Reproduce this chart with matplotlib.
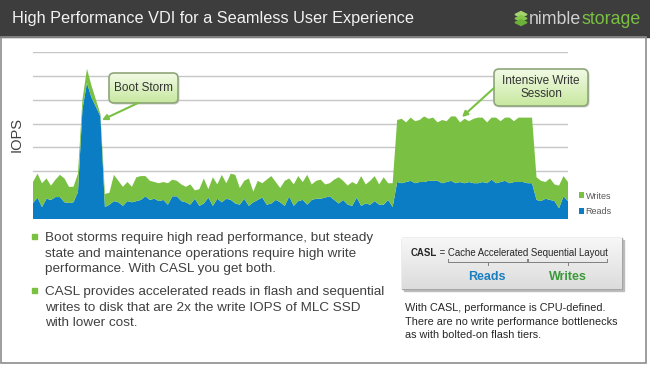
import numpy as np
import matplotlib
matplotlib.use('Agg')
import matplotlib.pyplot as plt
from matplotlib.patches import FancyBboxPatch, Rectangle, Polygon

plt.rcParams['font.family'] = ['Liberation Sans', 'DejaVu Sans']

# %% Data (IOPS, in grid units)
reads = [0.67, 0.9, 0.5, 0.85, 0.8, 0.92, 0.92, 0.7, 0.67, 0.7,
         1.13, 4.6, 5.7, 5.1, 4.7, 4.3, 0.5, 0.6, 0.75, 0.7,
         0.55, 0.75, 0.7, 0.75, 0.8, 0.95, 0.8, 0.85, 0.75, 0.8,
         0.6, 0.95, 0.95, 0.75, 0.7, 0.6, 0.85, 0.55, 0.65, 0.9,
         0.55, 0.85, 0.7, 0.85, 0.8, 0.65, 0.6, 0.85, 0.55, 0.7,
         0.8, 0.9, 0.6, 0.65, 0.8, 0.7, 0.55, 0.95, 0.55, 0.75,
         0.8, 0.6, 0.8, 0.85, 0.85, 0.9, 0.95, 0.8, 0.65, 0.8,
         0.6, 0.55, 0.9, 0.55, 0.65, 0.6, 0.75, 0.6, 0.6, 0.8,
         0.5, 1.55, 1.5, 1.55, 1.6, 1.5, 1.55, 1.55, 1.6, 1.6,
         1.6, 1.5, 1.55, 1.6, 1.5, 1.55, 1.5, 1.55, 1.5, 1.5,
         1.55, 1.5, 1.65, 1.5, 1.55, 1.6, 1.5, 1.55, 1.55, 1.55,
         1.5, 1.5, 0.8, 0.75, 0.85, 0.8, 0.75, 0.45, 0.95, 0.75]
writes = [0.88, 1.0, 1.0, 0.85, 0.6, 0.73, 0.93, 1.0, 0.68, 0.65,
          0.77, 0.4, 0.6, 0.5, 0.3, 0.1, 0.55, 0.5, 1.1, 0.9,
          0.8, 0.8, 0.65, 1.0, 1.0, 0.85, 0.8, 0.7, 0.75, 0.75,
          0.9, 0.7, 0.65, 0.7, 0.65, 0.85, 0.35, 0.7, 1.05, 0.35,
          1.2, 0.6, 1.15, 0.65, 1.1, 1.2, 0.7, 0.75, 1.15, 0.45,
          0.8, 0.6, 1.05, 1.15, 0.75, 0.6, 1.05, 0.75, 0.9, 1.05,
          0.75, 1.25, 0.65, 0.75, 0.8, 0.55, 0.55, 0.85, 1.1, 0.8,
          0.8, 1.0, 0.55, 1.25, 0.8, 1.0, 1.05, 0.85, 1.15, 0.7,
          1.0, 2.6, 2.7, 2.5, 2.65, 2.6, 2.6, 2.75, 2.6, 2.65,
          2.45, 2.65, 2.55, 2.7, 2.8, 2.5, 2.7, 2.55, 2.7, 2.75,
          2.7, 2.55, 2.6, 2.75, 2.55, 2.65, 2.75, 2.55, 2.7, 2.7,
          2.75, 2.75, 0.95, 0.85, 0.7, 0.9, 0.7, 0.95, 0.85, 0.8]
series_labels = ['Reads', 'Writes']
n_grid = 7

bullets = [
    'Boot storms require high read performance, but steady\n'
    'state and maintenance operations require high write\n'
    'performance. With CASL you get both.',
    'CASL provides accelerated reads in flash and sequential\n'
    'writes to disk that are 2x the write IOPS of MLC SSD\n'
    'with lower cost.',
]

green = '#7ac143'
blue = '#0a7dc4'
text_grey = '#404040'

W, H = 650, 366
fig = plt.figure(figsize=(W / 100, H / 100), dpi=100)

# %% Background layer in pixel coordinates
bg = fig.add_axes([0, 0, 1, 1], zorder=0)
bg.set_xlim(0, W)
bg.set_ylim(H, 0)
bg.axis('off')

bg.add_patch(Rectangle((0, 0), W, 37, color='#3d3d3d'))
bg.add_patch(Rectangle((1, 37), 645, 326, fill=False, ec='#8c8c8c', lw=1.2))
bg.text(12, 19, 'High Performance VDI for a Seamless User Experience',
        color='#f2f2f2', fontsize=11.7, va='center', ha='left')

# logo
for k, yy in enumerate([14.5, 18.5, 22.5]):
    bg.add_patch(Polygon([[515, yy], [521, yy - 3], [527, yy], [521, yy + 3]],
                         closed=True, color=['#a5d46e', '#86c64f', '#6cb23a'][k]))
nimble = bg.text(529, 19, 'nimble', color='#d0d0d0', fontsize=12.8,
                 va='center', ha='left')
bg.annotate('storage', xy=(1, 0.5), xycoords=nimble, color=green,
            fontsize=12.8, va='center', ha='left')

bg.text(17, 135, 'IOPS', rotation=90, color=text_grey, fontsize=10.5,
        va='center', ha='center')

# bullets
for yy, txt in zip([237, 291], bullets):
    bg.add_patch(Rectangle((32, yy - 3), 5, 5, color=green))
    bg.text(45, yy - 5, txt, color=text_grey, fontsize=9.7, va='top',
            ha='left', linespacing=1.4)

# CASL box
bg.add_patch(Rectangle((404, 240), 220, 51, color='#bdbdbd'))
grad = np.linspace(0, 1, 50).reshape(-1, 1)
box = Rectangle((402, 238), 220, 51, fc='none', ec='#a6a6a6', lw=1)
bg.add_patch(box)
cmap_box = matplotlib.colors.LinearSegmentedColormap.from_list('g', ['#f7f7f7', '#dcdcdc'])
im = bg.imshow(grad, extent=[402, 622, 289, 238], cmap=cmap_box,
               aspect='auto', zorder=1)
im.set_clip_path(box)
bg.set_xlim(0, W)
bg.set_ylim(H, 0)
casl = bg.text(411, 253, 'CASL', fontweight='bold', fontsize=6.9,
               color='#262626', va='center', ha='left', zorder=3)
bg.annotate(' = Cache Accelerated Sequential Layout', xy=(1, 0.5),
            xycoords=casl, fontsize=6.9, color='#262626', va='center',
            ha='left', zorder=3)
for x0, x1 in [(448, 527), (528, 607)]:
    xm = (x0 + x1) / 2
    bg.plot([x0, x0, x1, x1], [259, 262, 262, 259], color='#7f7f7f', lw=0.7, zorder=3)
    bg.plot([xm, xm], [262, 265], color='#7f7f7f', lw=0.7, zorder=3)
bg.text(487, 277, 'Reads', fontweight='bold', fontsize=9, color='#1a7fc1',
        va='center', ha='center', zorder=3)
bg.text(568, 277, 'Writes', fontweight='bold', fontsize=9, color='#3a9a3a',
        va='center', ha='center', zorder=3)
bg.text(405, 303, 'With CASL, performance is CPU-defined.\n'
        'There are no write performance bottlenecks\n'
        'as with bolted-on flash tiers.', fontsize=7.8, color='#262626',
        va='top', ha='left', linespacing=1.45)

# %% Chart
ax = fig.add_axes([33 / W, (H - 219) / H, 535 / W, 167 / H], zorder=1)
ax.patch.set_alpha(0)
xs = np.arange(len(reads))
polys = ax.stackplot(xs, reads, writes, colors=[blue, green], labels=series_labels,
                     lw=0)
ax.set_xlim(0, len(reads) - 1)
ax.set_ylim(0, n_grid)
ax.set_yticks(np.arange(0, n_grid + 1))
ax.set_xticks([])
ax.yaxis.grid(True, color='#c6c6c6', lw=1)
ax.set_axisbelow(True)
ax.tick_params(left=False, labelleft=False)
for s in ax.spines.values():
    s.set_visible(False)

handles = polys[::-1]
leg = fig.legend(handles, series_labels[::-1], loc='upper left',
                 bbox_to_anchor=(574 / W, 1 - 187 / H), frameon=False,
                 fontsize=6.5, handlelength=0.6, handleheight=0.6,
                 handletextpad=0.2, labelspacing=0.75, borderpad=0)
for t in leg.get_texts():
    t.set_color('#595959')

# %% Callouts
fg = fig.add_axes([0, 0, 1, 1], zorder=2)
fg.set_xlim(0, W)
fg.set_ylim(H, 0)
fg.axis('off')
fg.patch.set_alpha(0)

cmap_g = matplotlib.colors.LinearSegmentedColormap.from_list('cg', ['#f1fae4', '#c8e8a0'])
for (x0, y0, w, h, txt) in [(109, 73, 69, 30, 'Boot Storm'),
                            (494, 69, 94, 37, 'Intensive Write\nSession')]:
    shadow = FancyBboxPatch((x0 + 1.5, y0 + 1.5), w, h, boxstyle='round,pad=0,rounding_size=5',
                            fc='#b0b0b0', ec='none', alpha=0.6)
    fg.add_patch(shadow)
    patch = FancyBboxPatch((x0, y0), w, h, boxstyle='round,pad=0,rounding_size=5',
                           fc='none', ec='#8fa57a', lw=1.2, zorder=3)
    fg.add_patch(patch)
    g = fg.imshow(grad, extent=[x0, x0 + w, y0 + h, y0], cmap=cmap_g,
                  aspect='auto', zorder=2)
    g.set_clip_path(patch)
    fg.text(x0 + w / 2, y0 + h / 2, txt, ha='center', va='center',
            fontsize=8.5, color='#333333', zorder=4, linespacing=1.1)
fg.set_xlim(0, W)
fg.set_ylim(H, 0)

fg.annotate('', xy=(102, 120), xytext=(138, 103),
            arrowprops=dict(arrowstyle='-|>', color=green, lw=1.5,
                            mutation_scale=8, shrinkA=0, shrinkB=0))
fg.annotate('', xy=(462, 117), xytext=(494, 88),
            arrowprops=dict(arrowstyle='-|>', color=green, lw=1.5,
                            mutation_scale=8, shrinkA=0, shrinkB=0))

fig.savefig('out.png', dpi=100)
